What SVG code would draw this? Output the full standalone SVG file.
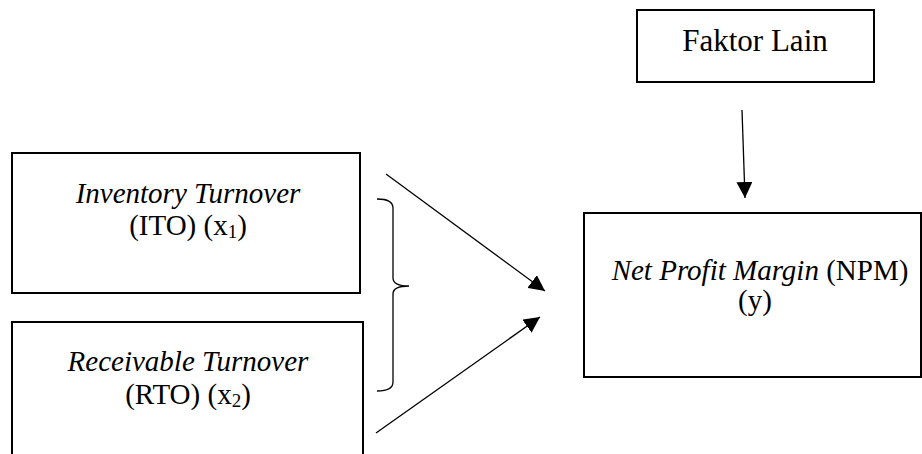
<svg xmlns="http://www.w3.org/2000/svg" width="922" height="454" viewBox="0 0 922 454">
<style>
.box{fill:#fff;stroke:#000;stroke-width:2}
.t{font-family:"Liberation Serif","Times New Roman",Times,serif;font-size:29px;fill:#000;text-anchor:middle}
.i{font-style:italic}
.sub{font-size:19px}
.c{fill:none;stroke:#000;stroke-width:1.3}
</style>
<defs>
<marker id="ah" viewBox="0 0 16 16" refX="16" refY="8" markerWidth="16" markerHeight="16" markerUnits="userSpaceOnUse" orient="auto">
<path d="M0,0 L16,8 L0,16 Z" fill="#000"/>
</marker>
</defs>
<rect width="922" height="454" fill="#fff"/>
<g id="faktor">
<rect class="box" x="637" y="10" width="237" height="72"/>
<text class="t" x="755" y="51" style="font-size:31px">Faktor Lain</text>
</g>
<g id="ito">
<rect class="box" x="12" y="153" width="348" height="140"/>
<text class="t" x="188" y="203"><tspan class="i">Inventory Turnover</tspan></text>
<text class="t" x="188" y="235">(ITO) (x<tspan class="sub" dy="3">1</tspan><tspan dy="-3">)</tspan></text>
</g>
<g id="rto">
<rect class="box" x="12" y="322" width="351" height="140"/>
<text class="t" x="188" y="371"><tspan class="i">Receivable Turnover</tspan></text>
<text class="t" x="188" y="404">(RTO) (x<tspan class="sub" dy="3">2</tspan><tspan dy="-3">)</tspan></text>
</g>
<g id="npm">
<rect class="box" x="584" y="213" width="337" height="164"/>
<text class="t" x="760" y="280"><tspan class="i">Net Profit Margin</tspan> (NPM)</text>
<text class="t" x="755" y="310">(y)</text>
</g>
<g id="connectors">
<path class="c" d="M377,199 Q393,199 393,208 L393,278 Q393,286 409,286 Q393,286 393,294 L393,382 Q393,391 377,391"/>
<line class="c" x1="386" y1="174" x2="545" y2="291" marker-end="url(#ah)"/>
<line class="c" x1="376" y1="433" x2="540" y2="317" marker-end="url(#ah)"/>
<line class="c" x1="742" y1="110" x2="745" y2="198" marker-end="url(#ah)"/>
</g>
</svg>
